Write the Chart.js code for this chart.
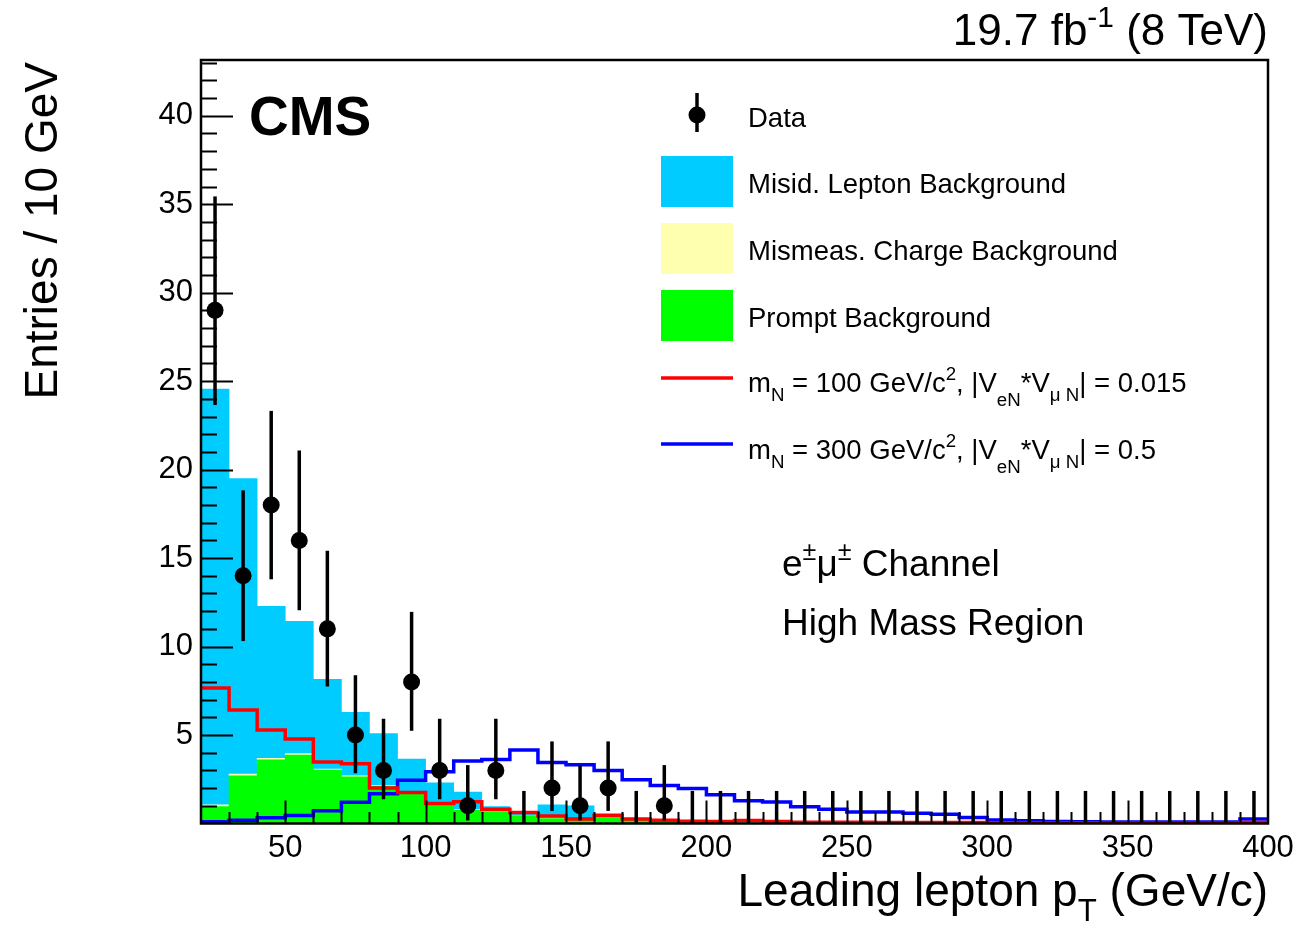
<!DOCTYPE html>
<html>
<head>
<meta charset="utf-8">
<script src="https://cdn.jsdelivr.net/npm/chart.js@4.4.1/dist/chart.umd.min.js"></script>
<style>
    body { margin: 0; background: #fff; }
    #wrap { width: 1300px; height: 929px; position: relative; }
</style>
</head>
<body>
<div id="wrap"><canvas id="myChart"></canvas></div>
<script>
// ================================================================== Data (10 GeV bins, 20-400)
let binEdges = [20, 30, 40, 50, 60, 70, 80, 90, 100, 110, 120, 130, 140, 150, 160, 170, 180, 190, 200,
    210, 220, 230, 240, 250, 260, 270, 280, 290, 300, 310, 320, 330, 340, 350, 360, 370, 380, 390, 400];

let dataCounts = [29, 14, 18, 16, 11, 5, 3, 8, 3, 1, 3, 0, 2, 1, 2, 0, 1, 0, 0,
    0, 0, 0, 0, 0, 0, 0, 0, 0, 0, 0, 0, 0, 0, 0, 0, 0, 0, 0];
let dataLow = [23.65, 10.31, 13.80, 12.05, 7.74, 2.84, 1.37, 5.24, 1.37, 0.17, 1.37, 0, 0.71, 0.17, 0.71, 0, 0.17, 0, 0,
    0, 0, 0, 0, 0, 0, 0, 0, 0, 0, 0, 0, 0, 0, 0, 0, 0, 0, 0];
let dataHigh = [35.44, 18.83, 23.32, 21.08, 15.41, 8.38, 5.92, 11.96, 5.92, 3.30, 5.92, 1.84, 4.64, 3.30, 4.64, 1.84, 3.30, 1.84, 1.84,
    1.84, 1.84, 1.84, 1.84, 1.84, 1.84, 1.84, 1.84, 1.84, 1.84, 1.84, 1.84, 1.84, 1.84, 1.84, 1.84, 1.84, 1.84, 1.84];

let promptBkg = [0.96, 2.7, 3.6, 3.87, 3.02, 2.64, 2.1, 1.66, 1.15, 0.75, 0.68, 0.4, 0.28, 0.2, 0.38, 0.2, 0.1, 0.06, 0.04,
    0.03, 0.03, 0.02, 0.02, 0.02, 0.02, 0.01, 0.01, 0.01, 0.01, 0.01, 0.01, 0, 0, 0, 0, 0, 0, 0];
let chargeBkg = [0.1, 0.1, 0.08, 0.08, 0.06, 0.05, 0.05, 0.04, 0.03, 0.03, 0.02, 0.02, 0.02, 0.02, 0.01, 0.01, 0.01, 0.01, 0,
    0, 0, 0, 0, 0, 0, 0, 0, 0, 0, 0, 0, 0, 0, 0, 0, 0, 0, 0];
let misidBkg = [23.49, 16.7, 8.59, 7.47, 5.07, 3.59, 2.93, 1.94, 1.12, 0.99, 0.26, 0.11, 0.76, 0.78, 0.04, 0.02, 0.01, 0.01, 0,
    0, 0, 0, 0, 0, 0, 0, 0, 0, 0, 0, 0, 0, 0, 0, 0, 0, 0, 0];

let sigM100 = [7.66, 6.42, 5.28, 4.77, 3.47, 3.38, 2.0, 1.75, 1.13, 1.23, 0.81, 0.62, 0.43, 0.25, 0.47, 0.26, 0.19, 0.13, 0.12,
    0.17, 0.11, 0.07, 0.07, 0.07, 0.06, 0.06, 0.05, 0.05, 0.04, 0.03, 0.03, 0.03, 0.02, 0.02, 0.02, 0.02, 0.02, 0.05];
let sigM300 = [0.1, 0.19, 0.32, 0.45, 0.72, 1.2, 1.68, 2.45, 2.92, 3.53, 3.62, 4.15, 3.45, 3.32, 3.0, 2.47, 2.15, 1.98, 1.62,
    1.28, 1.22, 0.95, 0.8, 0.65, 0.65, 0.58, 0.52, 0.34, 0.2, 0.16, 0.12, 0.1, 0.08, 0.08, 0.08, 0.08, 0.08, 0.26];

let xTickLabels = [50, 100, 150, 200, 250, 300, 350, 400];
let yTickLabels = [5, 10, 15, 20, 25, 30, 35, 40];

const FONT = '"Liberation Sans", Arial, sans-serif';

// ================================================================== helpers
function binCenters() {
    return binEdges.slice(0, -1).map((e, i) => (e + binEdges[i + 1]) / 2);
}

function barData(values) {
    let centers = binCenters();
    return values.map((v, i) => ({ x: centers[i], y: v }));
}

function stepData(values) {
    let pts = values.map((v, i) => ({ x: binEdges[i], y: v }));
    pts.push({ x: binEdges[binEdges.length - 1], y: values[values.length - 1] });
    return pts;
}

// parts: [{t: 'text', p: 'sub' | 'sup' | 'sub2' | undefined}]
function drawRich(ctx, parts, x, y, size, align) {
    let widths = parts.map(part => {
        ctx.font = `${part.p ? size * 0.68 : size}px ${FONT}`;
        return ctx.measureText(part.t).width;
    });
    let total = widths.reduce((a, b) => a + b, 0);
    let cx = align == 'right' ? x - total : x;
    ctx.textAlign = 'left';
    ctx.textBaseline = 'alphabetic';
    parts.forEach((part, i) => {
        let dy = 0;
        if (part.p == 'sub') dy = size * 0.33;
        if (part.p == 'sub2') dy = size * 0.5;
        if (part.p == 'sup') dy = -size * 0.42;
        ctx.font = `${part.p ? size * 0.68 : size}px ${FONT}`;
        ctx.fillText(part.t, cx, y + dy);
        cx += widths[i];
    });
}

// ================================================================== frame, ticks, error bars
const frameAndTicks = {
    id: 'frameAndTicks',
    afterDatasetsDraw(chart) {
        let ctx = chart.ctx;
        let area = chart.chartArea;
        let xs = chart.scales.x;
        let ys = chart.scales.y;
        ctx.save();
        ctx.strokeStyle = '#000';

        // data error bars
        let centers = binCenters();
        ctx.lineWidth = 3.5;
        centers.forEach((c, i) => {
            let px = xs.getPixelForValue(c);
            ctx.beginPath();
            ctx.moveTo(px, ys.getPixelForValue(dataLow[i]));
            ctx.lineTo(px, ys.getPixelForValue(dataHigh[i]));
            ctx.stroke();
        });

        ctx.lineWidth = 2;
        for (let v = 1; v < ys.max; v++) {
            let py = Math.round(ys.getPixelForValue(v)) + 0.5;
            let len = v % 5 == 0 ? 32 : 16;
            ctx.beginPath();
            ctx.moveTo(area.left, py);
            ctx.lineTo(area.left + len, py);
            ctx.stroke();
        }
        for (let v = binEdges[0] + 10; v < binEdges[binEdges.length - 1]; v += 10) {
            let px = Math.round(xs.getPixelForValue(v)) + 0.5;
            let len = v % 50 == 0 ? 23 : 11.5;
            ctx.beginPath();
            ctx.moveTo(px, area.bottom);
            ctx.lineTo(px, area.bottom - len);
            ctx.stroke();
        }
        ctx.lineWidth = 2.5;
        ctx.strokeRect(area.left, area.top, area.right - area.left, area.bottom - area.top);
        ctx.restore();
    },
    afterDraw(chart) {
        let ctx = chart.ctx;
        ctx.save();
        ctx.fillStyle = '#000';

        // CMS label
        ctx.font = `bold 55px ${FONT}`;
        ctx.textAlign = 'left';
        ctx.textBaseline = 'alphabetic';
        ctx.fillText('CMS', 249, 135);

        // luminosity
        drawRich(ctx, [{ t: '19.7 fb' }, { t: '-1', p: 'sup' }, { t: ' (8 TeV)' }], 1268, 45, 44, 'right');

        // axis titles
        drawRich(ctx, [{ t: 'Leading lepton p' }, { t: 'T', p: 'sub' }, { t: ' (GeV/c)' }], 1268, 906, 46, 'right');
        ctx.save();
        ctx.translate(57, 62);
        ctx.rotate(-Math.PI / 2);
        ctx.font = `46px ${FONT}`;
        ctx.textAlign = 'right';
        ctx.fillText('Entries / 10 GeV', 0, 0);
        ctx.restore();

        // channel text
        drawRich(ctx, [{ t: 'e' }, { t: '\u00b1', p: 'sup' }, { t: '\u03bc' }, { t: '\u00b1', p: 'sup' }, { t: ' Channel' }], 782, 576, 37);
        ctx.font = `37px ${FONT}`;
        ctx.fillText('High Mass Region', 782, 635);

        // legend
        let lx = 661, lw = 72, tx = 748, fs = 27.5;
        ctx.strokeStyle = '#000';
        ctx.lineWidth = 3.5;
        ctx.beginPath();
        ctx.moveTo(697, 93);
        ctx.lineTo(697, 132);
        ctx.stroke();
        ctx.beginPath();
        ctx.arc(697, 115, 8.5, 0, Math.PI * 2);
        ctx.fill();
        ctx.font = `${fs}px ${FONT}`;
        ctx.fillText('Data', tx, 127);

        let boxes = [['#00ccff', 'Misid. Lepton Background', 183],
            ['#ffffb0', 'Mismeas. Charge Background', 250],
            ['#00ff00', 'Prompt Background', 317]];
        boxes.forEach(b => {
            ctx.fillStyle = b[0];
            ctx.fillRect(lx, b[2] - 27, lw, 51);
            ctx.fillStyle = '#000';
            ctx.font = `${fs}px ${FONT}`;
            ctx.fillText(b[1], tx, b[2] + 10);
        });

        ctx.lineWidth = 3.5;
        ctx.strokeStyle = '#ff0000';
        ctx.beginPath();
        ctx.moveTo(lx, 378);
        ctx.lineTo(lx + lw, 378);
        ctx.stroke();
        ctx.strokeStyle = '#0000ff';
        ctx.beginPath();
        ctx.moveTo(lx, 444);
        ctx.lineTo(lx + lw, 444);
        ctx.stroke();

        drawRich(ctx, [{ t: 'm' }, { t: 'N', p: 'sub' }, { t: ' = 100 GeV/c' }, { t: '2', p: 'sup' },
            { t: ', |V' }, { t: 'eN', p: 'sub2' }, { t: '*V' }, { t: '\u03bc N', p: 'sub' }, { t: '| = 0.015' }], tx, 392, fs);
        drawRich(ctx, [{ t: 'm' }, { t: 'N', p: 'sub' }, { t: ' = 300 GeV/c' }, { t: '2', p: 'sup' },
            { t: ', |V' }, { t: 'eN', p: 'sub2' }, { t: '*V' }, { t: '\u03bc N', p: 'sub' }, { t: '| = 0.5' }], tx, 459, fs);
        ctx.restore();
    }
};

// ================================================================== Chart
function barSet(label, values, color, order) {
    return {
        type: 'bar',
        label: label,
        data: barData(values),
        backgroundColor: color,
        borderWidth: 0,
        barPercentage: 1,
        categoryPercentage: 1,
        stack: 'bkg',
        order: order
    };
}

function stepSet(label, values, color, stack) {
    return {
        type: 'line',
        label: label,
        data: stepData(values),
        borderColor: color,
        borderWidth: 3.5,
        stepped: 'before',
        pointRadius: 0,
        fill: false,
        stack: stack,
        order: 1
    };
}

function setChart() {
    let ctx = document.getElementById('myChart');
    Chart.defaults.font.family = FONT;
    Chart.defaults.color = '#000';

    let dataPoints = barData(dataCounts);

    new Chart(ctx, {
        data: {
            datasets: [
                {
                    type: 'line',
                    label: 'Data',
                    data: dataPoints,
                    showLine: false,
                    pointRadius: dataCounts.map(n => n > 0 ? 8.5 : 0),
                    pointBackgroundColor: '#000',
                    pointBorderColor: '#000',
                    pointBorderWidth: 0,
                    stack: 'data',
                    order: 0
                },
                stepSet('m_N = 100', sigM100, '#ff0000', 'sig100'),
                stepSet('m_N = 300', sigM300, '#0000ff', 'sig300'),
                barSet('Prompt Background', promptBkg, '#00ff00', 3),
                barSet('Mismeas. Charge Background', chargeBkg, '#ffffb0', 4),
                barSet('Misid. Lepton Background', misidBkg, '#00ccff', 5)
            ]
        },
        options: {
            responsive: true,
            maintainAspectRatio: false,
            animation: false,
            layout: { padding: { top: 60, right: 32, left: 0, bottom: 0 } },
            plugins: {
                legend: { display: false },
                tooltip: { enabled: false }
            },
            scales: {
                x: {
                    type: 'linear',
                    offset: false,
                    min: binEdges[0],
                    max: binEdges[binEdges.length - 1],
                    stacked: true,
                    grid: { display: false, drawTicks: false },
                    border: { display: false },
                    afterFit: scale => { scale.height = 105.5; },
                    ticks: {
                        stepSize: 50,
                        autoSkip: false,
                        maxRotation: 0,
                        padding: 6,
                        font: { size: 31 },
                        callback: v => xTickLabels.includes(v) ? v : ''
                    }
                },
                y: {
                    min: 0,
                    max: 43.15,
                    stacked: true,
                    grid: { display: false, drawTicks: false },
                    border: { display: false },
                    afterFit: scale => { scale.width = 201; },
                    ticks: {
                        stepSize: 5,
                        autoSkip: false,
                        padding: 8,
                        font: { size: 31 },
                        callback: v => yTickLabels.includes(v) ? v : ''
                    }
                }
            }
        },
        plugins: [frameAndTicks]
    });
}

setChart();
</script>
</body>
</html>
